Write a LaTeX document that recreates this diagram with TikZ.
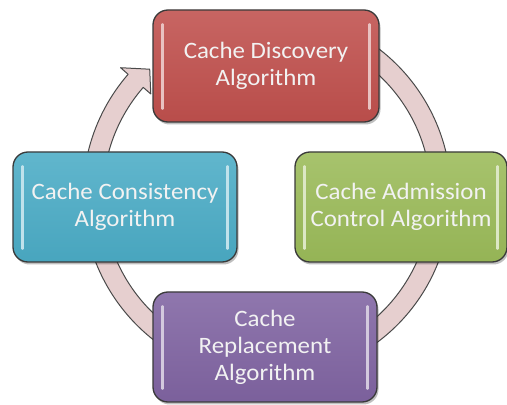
\documentclass[tikz,border=0pt]{standalone}
\usepackage{fontspec}
\setmainfont{Carlito}[FakeStretch=1.06]
\usetikzlibrary{shadows}
\definecolor{ringfill}{HTML}{E6CFCF}
\definecolor{ringline}{HTML}{4A4A4A}
\definecolor{boxline}{HTML}{3A3A3A}
\definecolor{cred}{HTML}{C0504D}
\definecolor{ccyan}{HTML}{4BACC6}
\definecolor{cgreen}{HTML}{9BBB59}
\definecolor{cpurple}{HTML}{8064A2}
\definecolor{txt}{HTML}{F2F2F2}
\tikzset{
  box/.style={draw=boxline, line width=1.3pt, rounded corners=15pt,
    top color=#1!88!white, bottom color=#1!96!black,
    drop shadow={shadow xshift=1.5pt, shadow yshift=-2.5pt, opacity=0.25, fill=black},
    text=txt, align=center, inner sep=0pt,
    font=\fontsize{23.5}{27}\selectfont},
  hl/.style={draw=#1!35!white, line width=2.6pt, line cap=round},
  ring/.style={fill=ringfill, draw=ringline, line width=1pt, line join=round}
}
\begin{document}
\begin{tikzpicture}[x=1pt,y=1pt]
\useasboundingbox (0,0) rectangle (507,405);
\coordinate (c) at (267,210);
\begin{scope}[shift={(c)}]
\filldraw[ring] (75:184pt) arc[start angle=75,end angle=-221,radius=184pt]
  -- (-221:194pt) -- (-227:172pt) -- (-221:154pt) -- (-221:164pt)
  arc[start angle=-221,end angle=75,radius=164pt] -- cycle;
\end{scope}
\node[box=cred, minimum width=226pt, minimum height=112pt] (red) at (266,339) {Cache Discovery\\Algorithm};
\node[box=ccyan, minimum width=224pt, minimum height=110pt] (cyan) at (125,198) {Cache Consistency\\Algorithm};
\node[box=cgreen, minimum width=212pt, minimum height=110pt] (green) at (401,198) {Cache Admission\\Control Algorithm};
\node[box=cpurple, minimum width=224pt, minimum height=110pt] (purple) at (265,58) {Cache\\Replacement\\Algorithm};
\foreach \n/\col in {red/cred,cyan/ccyan,green/cgreen,purple/cpurple}{
  \draw[hl=\col] ([xshift=10pt,yshift=-15pt]\n.north west) -- ([xshift=10pt,yshift=14pt]\n.south west);
  \draw[hl=\col] ([xshift=-10pt,yshift=-15pt]\n.north east) -- ([xshift=-10pt,yshift=14pt]\n.south east);
}
\end{tikzpicture}
\end{document}
